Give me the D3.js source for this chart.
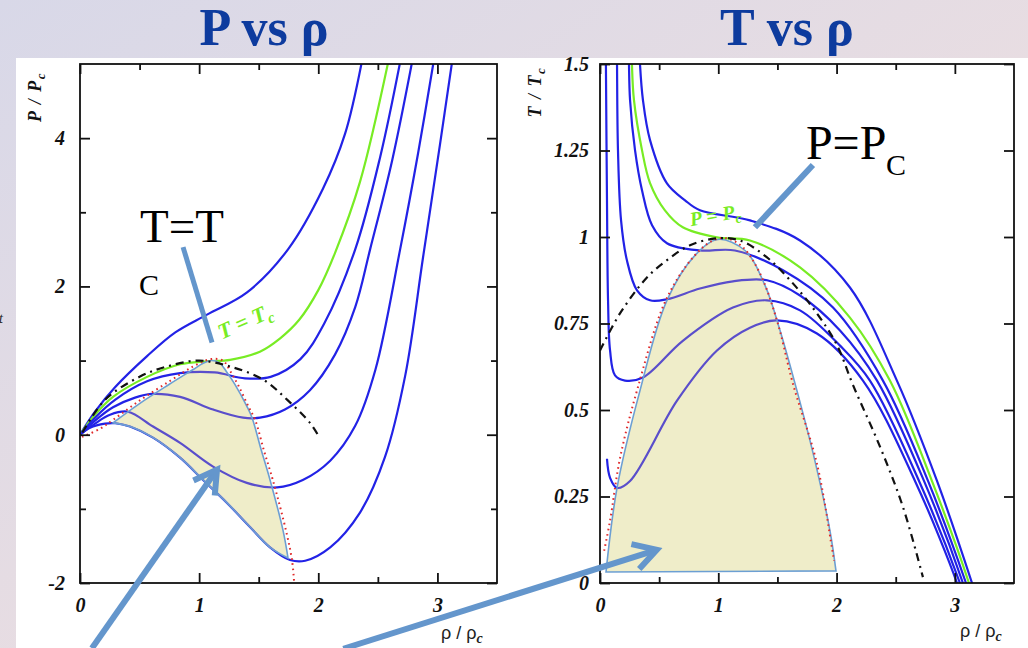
<!DOCTYPE html>
<html>
<head>
<meta charset="utf-8">
<script src="https://cdn.jsdelivr.net/npm/d3@7"></script>
<style>
  html, body { margin: 0; padding: 0; overflow: hidden; background: #fff; }
  svg { display: block; }
</style>
</head>
<body>
<svg id="chart" width="1028" height="648"></svg>
<script>
// ---------- P vs rho : isotherms (rho/rho_c, P/P_c), highest T first ----------
const isoA = [[0,0],[0.126,0.31],[0.294,0.64],[0.563,1.06],[0.80,1.38],[1.066,1.62],[1.402,1.92],[1.746,2.50],[2.04,3.32],[2.225,4.06],[2.368,5.05]];
const isoTc = [[0,0],[0.126,0.27],[0.277,0.51],[0.563,0.78],[0.84,0.95],[1.066,0.99],[1.26,1.01],[1.51,1.12],[1.68,1.30],[1.84,1.55],[2.0,1.95],[2.14,2.45],[2.35,3.41],[2.59,5.05]];
const isoB = [[0,0],[0.126,0.23],[0.294,0.47],[0.563,0.72],[0.84,0.83],[1.13,0.84],[1.385,0.76],[1.6,0.78],[1.85,1.02],[2.05,1.50],[2.31,2.50],[2.52,3.75],[2.69,5.05]];
const isoC = [[0,0],[0.126,0.19],[0.277,0.37],[0.462,0.50],[0.6,0.55],[0.84,0.51],[1.117,0.34],[1.369,0.23],[1.511,0.23],[1.72,0.34],[1.93,0.60],[2.14,1.08],[2.31,1.72],[2.435,2.50],[2.62,3.70],[2.79,5.05]];
const isoD = [[0,0],[0.126,0.15],[0.252,0.27],[0.403,0.31],[0.613,0.11],[0.84,-0.11],[1.117,-0.43],[1.40,-0.65],[1.654,-0.71],[1.87,-0.61],[2.10,-0.35],[2.31,0.12],[2.48,0.88],[2.687,2.50],[2.838,3.80],[2.97,5.05]];
const isoE = [[0,0],[0.084,0.095],[0.21,0.15],[0.30,0.155],[0.42,0.11],[0.613,-0.04],[0.84,-0.31],[1.033,-0.61],[1.234,-0.92],[1.427,-1.245],[1.595,-1.52],[1.763,-1.69],[1.89,-1.70],[2.10,-1.52],[2.35,-1.05],[2.56,-0.30],[2.73,0.80],[2.88,2.40],[3.02,3.90],[3.125,5.05]];
const spinodalP = [[0.02,0.03],[0.21,0.47],[0.504,0.785],[0.73,0.92],[1.0,1.0],[1.26,0.92],[1.54,0.74],[1.74,0.47],[1.93,0.16],[2.0,-0.01]];
const binodalP = [[0.017,-0.03],[0.168,0.08],[0.277,0.20],[0.5,0.46],[0.75,0.72],[0.95,0.92],[1.1,1.02],[1.2,1.0],[1.26,0.86],[1.33,0.66],[1.42,0.36],[1.47,0.20],[1.545,-0.22],[1.62,-0.62],[1.73,-1.3],[1.78,-1.7],[1.80,-2.05]];
const coexistUpperP = [[0.277,0.16],[0.5,0.42],[0.75,0.68],[0.95,0.88],[1.03,0.96],[1.1,1.0],[1.17,0.97],[1.234,0.84],[1.30,0.68],[1.402,0.38],[1.444,0.23],[1.52,-0.20],[1.595,-0.61],[1.704,-1.29],[1.746,-1.664]];

// ---------- T vs rho : isobars (rho/rho_c, T/T_c), highest P first ----------
const isobar1 = [[0.325,1.62],[0.338,1.50],[0.363,1.396],[0.423,1.28],[0.566,1.155],[0.719,1.106],[0.845,1.077],[1.268,1.048],[1.691,0.99],[2.113,0.854],[2.51,0.585],[2.849,0.295],[3.145,0.0],[3.2,-0.06]];
const isobarPc = [[0.265,1.62],[0.27,1.50],[0.287,1.396],[0.355,1.251],[0.423,1.156],[0.549,1.077],[0.70,1.028],[0.989,0.999],[1.268,0.99],[1.691,0.912],[2.113,0.767],[2.451,0.585],[2.806,0.295],[3.119,0.0],[3.17,-0.06]];
const isobar3 = [[0.242,1.62],[0.245,1.50],[0.254,1.396],[0.296,1.251],[0.355,1.135],[0.44,1.034],[0.566,0.982],[0.845,0.961],[1.141,0.961],[1.547,0.904],[1.97,0.796],[2.392,0.585],[2.773,0.295],[3.094,0.0],[3.15,-0.06]];
const isobar4 = [[0.142,1.62],[0.144,1.50],[0.152,1.251],[0.178,1.048],[0.228,0.932],[0.313,0.846],[0.423,0.817],[0.566,0.82],[0.845,0.851],[1.124,0.872],[1.412,0.875],[1.691,0.831],[2.029,0.73],[2.342,0.585],[2.739,0.295],[3.068,0.0],[3.12,-0.06]];
const isobar5 = [[0.048,1.62],[0.05,1.50],[0.059,1.106],[0.068,0.817],[0.085,0.672],[0.127,0.60],[0.211,0.585],[0.363,0.594],[0.70,0.70],[1.124,0.796],[1.412,0.817],[1.691,0.788],[2.029,0.686],[2.282,0.585],[2.697,0.295],[3.043,0.0],[3.1,-0.06]];
const isobar6 = [[0.059,0.359],[0.085,0.304],[0.144,0.275],[0.254,0.295],[0.651,0.527],[0.989,0.672],[1.268,0.738],[1.496,0.759],[1.834,0.721],[2.223,0.585],[2.663,0.295],[3.018,0.0],[3.07,-0.06]];
const spinodalT = [[0,0.672],[0.169,0.779],[0.397,0.883],[0.566,0.933],[0.761,0.976],[0.989,0.996],[1.183,0.99],[1.412,0.941],[1.631,0.866],[1.834,0.779],[2.0,0.69],[2.139,0.572],[2.367,0.394],[2.561,0.22],[2.73,0.017]];
const binodalT = [[0.035,0.093],[0.085,0.18],[0.17,0.362],[0.32,0.565],[0.556,0.817],[0.786,0.941],[0.955,0.99],[1.073,0.996],[1.209,0.97],[1.352,0.895],[1.496,0.759],[1.631,0.576],[1.834,0.345],[1.961,0.101],[1.978,0.064]];
const coexistT = [[0.051,0.032],[0.144,0.275],[0.338,0.556],[0.566,0.817],[0.803,0.947],[0.997,0.993],[1.226,0.961],[1.395,0.86],[1.522,0.73],[1.665,0.556],[1.817,0.353],[1.944,0.151],[1.995,0.035]];

// ---------- axis ticks ----------
const rhoTicks = [0, 1, 2, 3];
const rhoMinorTicks = [0.5, 1.5, 2.5];
const pTicks = [-2, 0, 2, 4];
const pMinorTicks = [-1, 1, 3];
const tTicks = [0, 0.25, 0.5, 0.75, 1, 1.25, 1.5];

const BLUE = "#2222e6", GREEN = "#78ec24", INNER = "#5a4ecb",
      FILL = "#efedc9", EDGE = "#6c9fd3", NOTE = "#6496cc", TITLE = "#0d3b9e";

const svg = d3.select("#chart");
const defs = svg.append("defs");

// slide background
const bg = defs.append("linearGradient").attr("id", "bg")
  .attr("x1", 0).attr("y1", 0).attr("x2", 1).attr("y2", 1);
bg.append("stop").attr("offset", 0).attr("stop-color", "#d8d8e8");
bg.append("stop").attr("offset", 0.55).attr("stop-color", "#e8dde2");
bg.append("stop").attr("offset", 1).attr("stop-color", "#f1e1e0");
svg.append("rect").attr("width", 1028).attr("height", 648).attr("fill", "url(#bg)");
svg.append("rect").attr("x", 16).attr("y", 58).attr("width", 1012).attr("height", 590).attr("fill", "#fff");
svg.append("text").attr("x", -1).attr("y", 323).attr("font-family", "Liberation Serif")
  .attr("font-style", "italic").attr("font-size", 14).attr("fill", "#222").text("t");

// slide titles
[["P vs ρ", 264], ["T vs ρ", 787]].forEach(([t, cx]) => {
  svg.append("text").attr("x", cx).attr("y", 45).attr("text-anchor", "middle")
    .attr("font-family", "Liberation Serif").attr("font-weight", "bold")
    .attr("font-size", 52).attr("fill", TITLE).text(t);
});

function panel(o) {
  const x = d3.scaleLinear([0, 3.5], [o.left, o.right]);
  const y = d3.scaleLinear(o.yDomain, [o.bottom, o.top]);
  const g = svg.append("g");
  const line = d3.line().x(d => x(d[0])).y(d => y(d[1])).curve(d3.curveCatmullRom.alpha(0.5));

  defs.append("clipPath").attr("id", o.id + "-frame").append("rect")
    .attr("x", o.left).attr("y", o.top).attr("width", o.right - o.left).attr("height", o.bottom - o.top);
  const plot = g.append("g").attr("clip-path", `url(#${o.id}-frame)`);

  // isolines
  o.curves.forEach(c => plot.append("path").attr("d", line(c.data)).attr("fill", "none")
    .attr("stroke", c.color).attr("stroke-width", 2.2));

  // coexistence region
  const regionD = o.region(line);
  plot.append("path").attr("d", regionD).attr("fill", FILL);
  defs.append("clipPath").attr("id", o.id + "-region").append("path").attr("d", regionD);
  const inner = plot.append("g").attr("clip-path", `url(#${o.id}-region)`);
  o.curves.filter(c => c.color === BLUE).forEach(c => inner.append("path").attr("d", line(c.data))
    .attr("fill", "none").attr("stroke", INNER).attr("stroke-width", 2.2));
  plot.append("path").attr("d", regionD).attr("fill", "none").attr("stroke", EDGE).attr("stroke-width", 1.6);

  // binodal (dotted red) and spinodal (dash-dot black)
  plot.append("path").attr("d", line(o.binodal)).attr("fill", "none").attr("stroke", "#e02a2a")
    .attr("stroke-width", 2).attr("stroke-dasharray", "1.6 3.6");
  plot.append("path").attr("d", line(o.spinodal)).attr("fill", "none").attr("stroke", "#111")
    .attr("stroke-width", 2.2).attr("stroke-dasharray", "8 5 2 5");

  // frame + inward ticks on all four sides
  g.append("rect").attr("x", o.left).attr("y", o.top).attr("width", o.right - o.left)
    .attr("height", o.bottom - o.top).attr("fill", "none").attr("stroke", "#111").attr("stroke-width", 1.8);
  const fmt = d => String(d);
  const axes = [
    [d3.axisBottom(x).tickValues(rhoTicks).tickSize(-10).tickPadding(15).tickFormat(fmt), `translate(0,${o.bottom})`],
    [d3.axisBottom(x).tickValues(rhoMinorTicks).tickSize(-6).tickFormat(""), `translate(0,${o.bottom})`],
    [d3.axisTop(x).tickValues(rhoTicks).tickSize(-10).tickFormat(""), `translate(0,${o.top})`],
    [d3.axisTop(x).tickValues(rhoMinorTicks).tickSize(-6).tickFormat(""), `translate(0,${o.top})`],
    [d3.axisLeft(y).tickValues(o.yTicks).tickSize(-10).tickPadding(o.yPad).tickFormat(fmt), `translate(${o.left},0)`],
    [d3.axisRight(y).tickValues(o.yTicks).tickSize(-10).tickFormat(""), `translate(${o.right},0)`]
  ];
  if (o.yMinor.length) {
    axes.push([d3.axisLeft(y).tickValues(o.yMinor).tickSize(-6).tickFormat(""), `translate(${o.left},0)`]);
    axes.push([d3.axisRight(y).tickValues(o.yMinor).tickSize(-6).tickFormat(""), `translate(${o.right},0)`]);
  }
  axes.forEach(([a, tr]) => {
    const ag = g.append("g").attr("transform", tr).call(a);
    ag.select(".domain").remove();
    ag.selectAll("line").attr("stroke", "#111").attr("stroke-width", 1.8);
    ag.selectAll("text").attr("font-family", "Liberation Serif").attr("font-weight", "bold")
      .attr("font-style", "italic").attr("font-size", 20).attr("fill", "#111");
  });

  // axis titles
  const yt = g.append("text").attr("transform", `translate(${o.yTitle[0]},${o.yTitle[1]}) rotate(-90)`)
    .attr("text-anchor", "middle").attr("font-family", "Liberation Serif").attr("font-weight", "bold")
    .attr("font-style", "italic").attr("font-size", 18).attr("letter-spacing", 1.5).attr("fill", "#111");
  yt.append("tspan").text(o.yName + " / " + o.yName);
  yt.append("tspan").attr("dy", 4).attr("font-size", 13).text("c");
  const xt = g.append("text").attr("x", o.xTitle[0]).attr("y", o.xTitle[1])
    .attr("font-family", "Liberation Sans").attr("font-size", 18).attr("fill", "#222");
  xt.append("tspan").text("ρ / ρ");
  xt.append("tspan").attr("dy", 4).attr("font-family", "Liberation Serif").attr("font-weight", "bold")
    .attr("font-style", "italic").attr("font-size", 14).text("c");

  return { x, y, g };
}

// ---------- left: P vs rho ----------
const L = panel({
  id: "pr", left: 80, right: 497, top: 64, bottom: 583, yDomain: [-2, 5],
  yTicks: pTicks, yMinor: pMinorTicks, yPad: 15, yName: "P",
  yTitle: [41, 97], xTitle: [441, 639],
  curves: [
    { data: isoA, color: BLUE }, { data: isoTc, color: GREEN }, { data: isoB, color: BLUE },
    { data: isoC, color: BLUE }, { data: isoD, color: BLUE }, { data: isoE, color: BLUE }
  ],
  binodal: binodalP, spinodal: spinodalP,
  region: line => {
    const first = coexistUpperP[0], last = coexistUpperP[coexistUpperP.length - 1];
    const lower = [last].concat(isoE.filter(d => d[0] > first[0] + 0.05 && d[0] < last[0] - 0.05).reverse(), [first]);
    return line(coexistUpperP) + line(lower).replace(/^M/, "L") + "Z";
  }
});

// ---------- right: T vs rho ----------
const R = panel({
  id: "tr", left: 600, right: 1014, top: 64, bottom: 583, yDomain: [0, 1.5],
  yTicks: tTicks, yMinor: [], yPad: 11, yName: "T",
  yTitle: [541, 92], xTitle: [960, 637],
  curves: [
    { data: isobar1, color: BLUE }, { data: isobarPc, color: GREEN }, { data: isobar3, color: BLUE },
    { data: isobar4, color: BLUE }, { data: isobar5, color: BLUE }, { data: isobar6, color: BLUE }
  ],
  binodal: binodalT, spinodal: spinodalT,
  region: line => line(coexistT) + "Z"
});

// ---------- in-plot labels on the critical lines ----------
function greenLabel(p, xy, rot, name, size) {
  const t = p.g.append("text")
    .attr("transform", `translate(${p.x(xy[0])},${p.y(xy[1])}) rotate(${rot})`)
    .attr("font-family", "Liberation Serif").attr("font-weight", "bold").attr("font-style", "italic")
    .attr("font-size", size).attr("fill", GREEN);
  t.append("tspan").text(name + " = " + name);
  t.append("tspan").attr("dy", 5).attr("font-size", size * 0.7).text("c");
}
greenLabel(L, [1.19, 1.28], -24, "T", 22);
greenLabel(R, [0.77, 1.031], -10, "P", 20);

// ---------- slide call-outs ----------
function callText(p, xy, size, str) {
  p.g.append("text").attr("x", p.x(xy[0])).attr("y", p.y(xy[1]))
    .attr("font-family", "Liberation Serif").attr("font-size", size).attr("fill", "#000").text(str);
}
function callLine(p, a, b, w) {
  p.g.append("line").attr("x1", p.x(a[0])).attr("y1", p.y(a[1])).attr("x2", p.x(b[0])).attr("y2", p.y(b[1]))
    .attr("stroke", NOTE).attr("stroke-width", w);
}
function callArrow(p, a, b) {
  const x0 = p.x(a[0]), y0 = p.y(a[1]), x1 = p.x(b[0]), y1 = p.y(b[1]);
  const len = Math.hypot(x1 - x0, y1 - y0), ux = (x0 - x1) / len, uy = (y0 - y1) / len;
  const arm = t => [x1 + 26 * (ux * Math.cos(t) - uy * Math.sin(t)), y1 + 26 * (ux * Math.sin(t) + uy * Math.cos(t))];
  const h1 = arm(Math.PI / 6), h2 = arm(-Math.PI / 6);
  svg.append("line").attr("x1", x0).attr("y1", y0).attr("x2", x1).attr("y2", y1)
    .attr("stroke", NOTE).attr("stroke-width", 6);
  svg.append("path").attr("d", `M${h1[0]},${h1[1]}L${x1},${y1}L${h2[0]},${h2[1]}`)
    .attr("fill", "none").attr("stroke", NOTE).attr("stroke-width", 6).attr("stroke-linejoin", "miter");
}

callText(L, [0.504, 2.6], 47, "T=T");
callText(L, [0.496, 1.88], 30, "C");
callLine(L, [0.865, 2.53], [1.108, 1.245], 5);

callText(R, [1.741, 1.225], 48, "P=P");
callText(R, [2.418, 1.18], 30, "C");
callLine(R, [1.80, 1.208], [1.31, 1.028], 6);

callArrow(L, [0.1, -2.88], [1.15, -0.47]);
callArrow(R, [-2.17, -0.19], [0.48, 0.096]);
</script>
</body>
</html>
